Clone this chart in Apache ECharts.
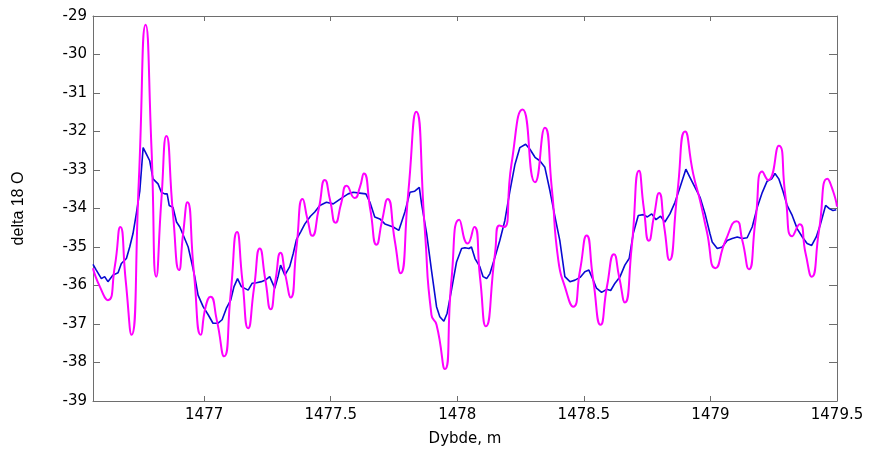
<!DOCTYPE html>
<html>
<head>
<meta charset="utf-8">
<script src="https://cdn.jsdelivr.net/npm/echarts@6/dist/echarts.min.js"></script>
<style>
html, body { margin: 0; padding: 0; background: #fff; }
#chart { width: 874px; height: 452px; }
</style>
</head>
<body>
<div id="chart"></div>
<script>
// akser
var depthTicks = [1477, 1477.5, 1478, 1478.5, 1479, 1479.5];
var depthMin = 1476.561;
var depthMax = 1479.5;
var d18oMin = -39;
var d18oMax = -29;

// blaa kurve (glattet)
var depthBlue = [
	1476.561, 1476.564, 1476.574, 1476.594, 1476.607, 1476.620, 1476.640, 1476.660, 1476.673, 1476.693,
	1476.706, 1476.719, 1476.732, 1476.746, 1476.759, 1476.772, 1476.785, 1476.798, 1476.818, 1476.831,
	1476.844, 1476.854, 1476.862, 1476.877, 1476.891, 1476.904, 1476.923, 1476.937, 1476.950, 1476.963,
	1476.976, 1476.996, 1477.016, 1477.035,
	1477.042, 1477.055, 1477.071, 1477.088, 1477.105, 1477.118, 1477.132, 1477.147, 1477.174, 1477.190,
	1477.207, 1477.226, 1477.242, 1477.259, 1477.279, 1477.292, 1477.302, 1477.319, 1477.338, 1477.352,
	1477.365, 1477.382, 1477.398, 1477.420, 1477.437, 1477.457, 1477.483, 1477.510,
	1477.543, 1477.569, 1477.589, 1477.615, 1477.639, 1477.655, 1477.674, 1477.694, 1477.714,
	1477.747, 1477.769, 1477.793, 1477.813, 1477.832, 1477.850, 1477.859, 1477.879, 1477.898,
	1477.918, 1477.931, 1477.947, 1477.960, 1477.977, 1477.997, 1478.017,
	1478.030, 1478.046, 1478.056, 1478.070, 1478.089, 1478.102, 1478.116, 1478.129, 1478.149, 1478.168,
	1478.188, 1478.208, 1478.228, 1478.247, 1478.270, 1478.287, 1478.307, 1478.326, 1478.346, 1478.366,
	1478.386, 1478.405, 1478.425, 1478.445, 1478.465, 1478.485, 1478.504, 1478.520,
	1478.524, 1478.537, 1478.550, 1478.570, 1478.590, 1478.606, 1478.623, 1478.643, 1478.662, 1478.679,
	1478.695, 1478.715, 1478.735, 1478.751, 1478.768, 1478.785, 1478.803, 1478.820, 1478.840, 1478.860,
	1478.880, 1478.903, 1478.919, 1478.939, 1478.959, 1478.979, 1478.998,
	1479.007, 1479.027, 1479.047, 1479.066, 1479.086, 1479.106, 1479.126, 1479.145, 1479.165, 1479.185,
	1479.205, 1479.224, 1479.242, 1479.255, 1479.270, 1479.286, 1479.303, 1479.323, 1479.343, 1479.363,
	1479.382, 1479.400, 1479.418, 1479.435, 1479.455, 1479.471, 1479.484, 1479.497
];
var d18oBlue = [
	-35.45, -35.47, -35.60, -35.82, -35.77, -35.90, -35.73, -35.67, -35.43, -35.30,
	-35.00, -34.65, -34.14, -33.54, -32.42, -32.59, -32.76, -33.23, -33.36, -33.58,
	-33.62, -33.62, -33.92, -33.97, -34.35, -34.48, -34.78, -35.00, -35.38, -35.77,
	-36.25, -36.55, -36.76, -36.98,
	-36.93, -36.98, -36.89, -36.59, -36.38, -36.03, -35.82, -36.03, -36.12, -35.94,
	-35.93, -35.90, -35.86, -35.77, -36.07, -35.77, -35.47, -35.73, -35.51, -35.17,
	-34.80, -34.60, -34.40, -34.20, -34.09, -33.92, -33.84, -33.88,
	-33.73, -33.62, -33.58, -33.60, -33.62, -33.84, -34.22, -34.27, -34.40,
	-34.48, -34.57, -34.09, -33.58, -33.55, -33.45, -33.88, -34.65, -35.60,
	-36.55, -36.81, -36.93, -36.72, -36.12, -35.39, -35.04,
	-35.02, -35.04, -35.00, -35.30, -35.51, -35.77, -35.82, -35.69, -35.26, -34.83,
	-34.31, -33.54, -32.85, -32.42, -32.33, -32.46, -32.67, -32.76, -32.93, -33.54,
	-34.22, -34.83, -35.77, -35.90, -35.86, -35.79, -35.64, -35.60,
	-35.64, -35.86, -36.07, -36.18, -36.10, -36.13, -35.94, -35.77, -35.47, -35.30,
	-34.65, -34.18, -34.16, -34.22, -34.14, -34.29, -34.20, -34.35, -34.14, -33.84,
	-33.45, -32.98, -33.19, -33.45, -33.71, -34.14, -34.65,
	-34.87, -35.04, -35.00, -34.83, -34.78, -34.74, -34.78, -34.76, -34.48, -33.97,
	-33.58, -33.29, -33.23, -33.09, -33.23, -33.54, -33.92, -34.18, -34.53, -34.74,
	-34.91, -34.96, -34.74, -34.40, -33.92, -34.01, -34.05, -34.03
];

// magenta kurve
var depthMagenta = [
	1476.561, 1476.588, 1476.620, 1476.647, 1476.669, 1476.690, 1476.713, 1476.742, 1476.769, 1476.792,
	1476.811, 1476.831, 1476.851, 1476.877, 1476.901, 1476.917, 1476.934, 1476.960, 1476.987, 1477.006,
	1477.025, 1477.050, 1477.079, 1477.105, 1477.130, 1477.151, 1477.174, 1477.197, 1477.220, 1477.242,
	1477.263, 1477.282, 1477.302, 1477.321, 1477.342, 1477.365, 1477.389, 1477.409, 1477.427, 1477.453,
	1477.477, 1477.498, 1477.519, 1477.542, 1477.563, 1477.595, 1477.615, 1477.631, 1477.657, 1477.681,
	1477.703, 1477.725, 1477.753, 1477.776, 1477.806, 1477.838, 1477.872, 1477.898, 1477.918, 1477.951,
	1477.977, 1478.008, 1478.041, 1478.067, 1478.090, 1478.113, 1478.149, 1478.166, 1478.185, 1478.214,
	1478.258, 1478.307, 1478.346, 1478.373, 1478.399, 1478.425, 1478.458, 1478.485, 1478.511, 1478.537,
	1478.566, 1478.592, 1478.619, 1478.640, 1478.662, 1478.689, 1478.718, 1478.737, 1478.757, 1478.777,
	1478.797, 1478.818, 1478.838, 1478.869, 1478.900, 1478.932, 1478.959, 1478.985, 1479.020, 1479.060,
	1479.103, 1479.126, 1479.152, 1479.178, 1479.205, 1479.228, 1479.270, 1479.297, 1479.323, 1479.352,
	1479.376, 1479.400, 1479.429, 1479.462, 1479.484, 1479.500
];
var d18oMagenta = [
	-35.55, -36.03, -36.38, -35.51, -34.48, -35.86, -37.28, -33.28, -29.23, -32.42,
	-35.77, -33.79, -32.12, -34.14, -35.60, -34.65, -33.84, -35.69, -37.28, -36.55,
	-36.29, -36.90, -37.84, -36.20, -34.61, -35.86, -37.11, -36.07, -35.04, -35.86,
	-36.62, -35.86, -35.15, -35.73, -36.31, -35.00, -33.75, -34.30, -34.71, -34.00,
	-33.26, -33.80, -34.37, -33.85, -33.41, -33.73, -33.45, -33.09, -34.05, -34.94,
	-34.31, -33.75, -34.83, -35.68, -33.62, -31.49, -34.57, -36.76, -37.02, -38.17,
	-35.86, -34.29, -34.91, -34.48, -35.80, -37.06, -35.17, -34.44, -34.48, -32.85,
	-31.43, -33.32, -31.90, -33.45, -35.34, -36.03, -36.55, -35.60, -34.70, -35.86,
	-37.02, -36.00, -35.19, -35.80, -36.44, -35.00, -33.02, -34.00, -34.84, -34.20,
	-33.60, -34.50, -35.34, -33.62, -32.00, -33.10, -33.79, -34.57, -35.55, -34.83,
	-34.33, -34.83, -35.58, -34.31, -33.04, -33.26, -32.37, -33.71, -34.72, -34.41,
	-35.17, -35.77, -34.57, -33.23, -33.54, -33.95
];

function zipPairs(xs, ys){
	var out = [];
	for (var i = 0; i < xs.length; i++) {
		out.push([xs[i], ys[i]]);
	}
	return out;
}

var frameColor = '#6e6e6e';
var labelFont = {
	fontFamily: 'DejaVu Sans',
	fontSize: 15,
	color: '#000'
};

var chart = echarts.init(document.getElementById('chart'), null, { renderer: 'canvas' });
var option = {
	animation: false,
	backgroundColor: '#fff',
	grid: { left: 93, right: 37, top: 16, bottom: 49 },
	xAxis: [
		{
			type: 'value',
			position: 'bottom',
			min: depthMin,
			max: depthMax,
			name: 'Dybde, m',
			nameLocation: 'middle',
			nameGap: 31,
			nameTextStyle: { fontFamily: 'DejaVu Sans', fontSize: 15, color: '#000' },
			axisLine: { show: true, onZero: false, lineStyle: { color: frameColor, width: 1 } },
			axisTick: { show: true, inside: true, length: 5, customValues: depthTicks, lineStyle: { color: frameColor } },
			axisLabel: {
				show: true,
				margin: 7,
				customValues: depthTicks,
				fontFamily: labelFont.fontFamily,
				fontSize: labelFont.fontSize,
				color: labelFont.color,
				formatter: function(v){ return String(v); }
			},
			splitLine: { show: false }
		},
		{
			type: 'value',
			position: 'top',
			min: depthMin,
			max: depthMax,
			axisLine: { show: true, onZero: false, lineStyle: { color: frameColor, width: 1 } },
			axisTick: { show: true, inside: true, length: 5, customValues: depthTicks, lineStyle: { color: frameColor } },
			axisLabel: { show: false },
			splitLine: { show: false }
		}
	],
	yAxis: [
		{
			type: 'value',
			position: 'left',
			min: d18oMin,
			max: d18oMax,
			interval: 1,
			name: 'delta 18 O',
			nameLocation: 'middle',
			nameGap: 66,
			nameTextStyle: { fontFamily: 'Liberation Sans', fontSize: 16, color: '#000' },
			axisLine: { show: true, onZero: false, lineStyle: { color: frameColor, width: 1 } },
			axisTick: { show: true, inside: true, length: 7, lineStyle: { color: frameColor } },
			axisLabel: {
				show: true,
				margin: 6,
				fontFamily: labelFont.fontFamily,
				fontSize: labelFont.fontSize,
				color: labelFont.color
			},
			splitLine: { show: false }
		},
		{
			type: 'value',
			position: 'right',
			min: d18oMin,
			max: d18oMax,
			interval: 1,
			axisLine: { show: true, onZero: false, lineStyle: { color: frameColor, width: 1 } },
			axisTick: { show: true, inside: true, length: 8, lineStyle: { color: frameColor } },
			axisLabel: { show: false },
			splitLine: { show: false }
		}
	],
	series: [
		{
			name: 'blå',
			type: 'line',
			xAxisIndex: 0,
			yAxisIndex: 0,
			data: zipPairs(depthBlue, d18oBlue),
			symbol: 'none',
			smooth: false,
			lineStyle: { color: '#0a0ad2', width: 1.6 },
			z: 2
		},
		{
			name: 'magenta',
			type: 'line',
			xAxisIndex: 0,
			yAxisIndex: 0,
			data: zipPairs(depthMagenta, d18oMagenta),
			symbol: 'none',
			smooth: 0.6,
			lineStyle: { color: '#ff00ff', width: 2 },
			z: 3
		}
	]
};
chart.setOption(option);
</script>
</body>
</html>
